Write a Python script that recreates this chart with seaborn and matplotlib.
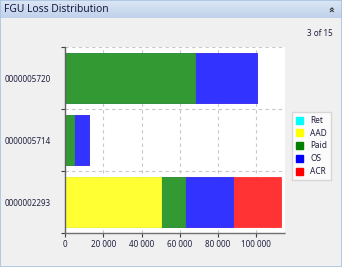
import matplotlib
matplotlib.use("Agg")
import matplotlib.pyplot as plt
from matplotlib.patches import Rectangle, Patch
import numpy as np
import pandas as pd
import seaborn as sns

# ---- data ----
categories = ["0000005720", "0000005714", "0000002293"]
series_names = ["Ret", "AAD", "Paid", "OS", "ACR"]
ret = [0, 0, 0]
aad = [0, 0, 50100]
paid = [67900, 4900, 12500]
os_ = [32400, 7600, 25200]
acr = [0, 0, 24900]
x_ticks = [0, 20000, 40000, 60000, 80000, 100000]
x_tick_labels = ["0", "20 000", "40 000", "60 000", "80 000", "100 000"]

legend_colors = ["#00ffff", "#ffff00", "#008000", "#0000ff", "#ff0000"]
bar_colors = ["#33ffff", "#ffff33", "#339933", "#3333ff", "#ff3333"]

sns.set_theme(style="white")
plt.rcParams["font.family"] = ["Noto Sans", "DejaVu Sans"]

fig = plt.figure(figsize=(3.42, 2.67), dpi=100)
fig.patch.set_facecolor("#f0f0f0")

# panel chrome
W, H = 342, 267
grad = np.linspace(0, 1, 50).reshape(-1, 1)
bar_ax = fig.add_axes([0, 1 - 18 / H, 1, 18 / H])
bar_ax.imshow(grad, aspect="auto", extent=[0, 1, 0, 1],
              cmap=matplotlib.colors.LinearSegmentedColormap.from_list(
                  "g", ["#dce7f5", "#bfd1ea"]))
bar_ax.axis("off")
fig.add_artist(Rectangle((0, 0), 1, 1, transform=fig.transFigure,
                         fill=False, edgecolor="#a9c3e0", linewidth=1.2))
fig.text(4 / W, 1 - 9 / H, "FGU Loss Distribution", fontsize=7.4,
         color="#1a1a40", va="center", ha="left")
fig.text(332 / W, 1 - 9 / H, "\u00bb", fontsize=7, rotation=90,
         color="#202020", va="center", ha="center", fontweight="bold",
         family="DejaVu Sans")
fig.text(333 / W, 1 - 33 / H, "3 of 15", fontsize=5.8,
         color="#202040", va="center", ha="right")

# main axes
ax = fig.add_axes([65 / W, 1 - 233 / H, 220 / W, 186 / H])
ax.set_facecolor("white")

df = pd.DataFrame({"category": categories, "Ret": ret, "AAD": aad,
                   "Paid": paid, "OS": os_, "ACR": acr})
cum = df[series_names].cumsum(axis=1)
# draw back-to-front so each stacked segment shows
for name, col in reversed(list(zip(series_names, bar_colors))):
    sns.barplot(x=cum[name], y=df["category"], order=categories,
                orient="h", color=col, saturation=1, width=0.8,
                edgecolor=col, linewidth=0.6, ax=ax)

ax.set_xlim(0, 115000)
ax.set_ylim(2.5, -0.5)
ax.set_xlabel("")
ax.set_ylabel("")
ax.set_xticks(x_ticks)
ax.set_xticklabels(x_tick_labels, fontsize=5.8, color="#202040")
ax.set_yticks([-0.5, 0.5, 1.5, 2.5])
ax.set_yticklabels([])
ax.set_yticks([0, 1, 2], minor=True)
ax.set_yticklabels(categories, minor=True, fontsize=5.8, color="#202040")
ax.tick_params(axis="y", which="minor", length=0, pad=10)
ax.tick_params(axis="both", which="major", length=3, width=0.8,
               color="#404040", direction="out", bottom=True, left=True)
ax.tick_params(axis="x", pad=2)
ax.grid(True, which="major", linestyle=(0, (3, 3)), color="#c8c8c8",
        linewidth=0.8)
ax.set_axisbelow(True)
for s in ["top", "right"]:
    ax.spines[s].set_visible(False)
ax.spines["left"].set_color("#606060")
ax.spines["left"].set_linewidth(1.0)
ax.spines["bottom"].set_color("#707070")
ax.spines["bottom"].set_linestyle((0, (2, 1)))
ax.spines["bottom"].set_linewidth(1.0)

handles = [Patch(facecolor=c, edgecolor=c) for c in legend_colors]
leg = fig.legend(handles, series_names, loc="center",
                 bbox_to_anchor=(311.5 / W, 1 - 146 / H), fontsize=6,
                 frameon=True, fancybox=False, handlelength=0.9,
                 handleheight=0.9, handletextpad=0.8, labelspacing=0.45,
                 borderpad=0.5, labelcolor="#202040")
leg.get_frame().set_edgecolor("#d0d0d0")
leg.get_frame().set_facecolor("white")
leg.get_frame().set_linewidth(1.0)

fig.savefig("out.png", dpi=100, facecolor=fig.get_facecolor())
